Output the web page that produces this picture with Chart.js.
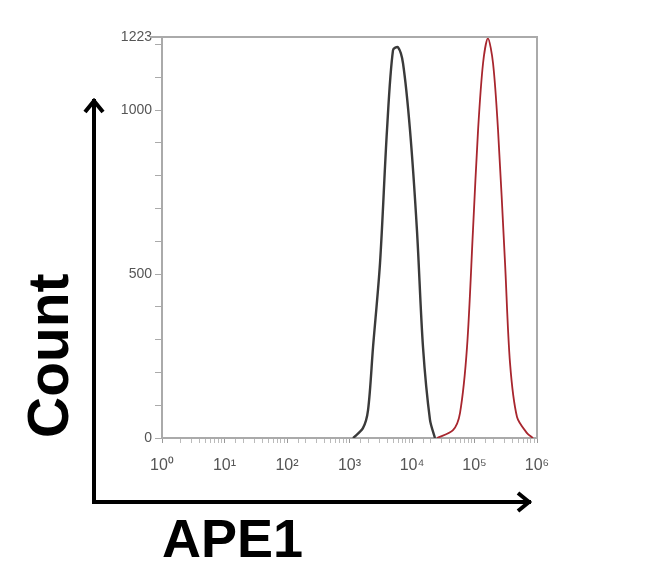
<!DOCTYPE html>
<html>
<head>
<meta charset="utf-8">
<script src="https://cdn.jsdelivr.net/npm/chart.js@4"></script>
<style>
  html,body{margin:0;padding:0;background:#fff;}
  #wrap{width:650px;height:581px;}
</style>
</head>
<body>
<div id="wrap"><canvas id="c" width="650" height="581"></canvas></div>
<script>
// fluorescence intensity (log axis) and event counts
const controlX = [1140, 1640, 1980, 2380, 3080, 3980, 4970, 5970, 7180, 9290, 12000, 15000, 19400, 23300];
const controlY = [0, 30, 85, 277, 534, 939, 1183, 1192, 1143, 939, 634, 277, 55, 0];
const ape1X = [25100, 45300, 58600, 75900, 94600, 114000, 137000, 164000, 198000, 238000, 308000, 370000, 479000, 692000, 863000];
const ape1Y = [0, 24, 76, 277, 634, 939, 1143, 1219, 1143, 939, 534, 229, 64, 15, 0];
const yTicks = [0,100,200,300,400,500,600,700,800,900,1000,1100,1200,1223];
const yLabels = [0, 500, 1000, 1223];
const sup = ['⁰','¹','²','³','⁴','⁵','⁶'];

const pts = (xs, ys)=>xs.map((x,i)=>({x, y: ys[i]}));

const decor = {
  id: 'decor',
  afterDraw(chart){
    const {ctx, chartArea: a} = chart;
    ctx.save();
    // frame top/right
    ctx.strokeStyle = '#aaa'; ctx.lineWidth = 2;
    ctx.beginPath();
    ctx.moveTo(a.left-12, a.top); ctx.lineTo(a.right, a.top); ctx.lineTo(a.right, a.bottom);
    ctx.stroke();
    // big arrows
    const ax = a.left-68, ay = a.bottom+64;
    ctx.strokeStyle = '#000'; ctx.lineWidth = 4; ctx.lineCap = 'square'; ctx.lineJoin = 'miter';
    ctx.beginPath();
    ctx.moveTo(ax, a.top+64); ctx.lineTo(ax, ay); ctx.lineTo(a.right-8, ay);
    ctx.stroke();
    ctx.lineCap = 'butt';
    ctx.beginPath();
    ctx.moveTo(ax-9, a.top+75); ctx.lineTo(ax, a.top+64); ctx.lineTo(ax+9, a.top+75);
    ctx.moveTo(a.right-19, ay-9); ctx.lineTo(a.right-8, ay); ctx.lineTo(a.right-19, ay+9);
    ctx.stroke();
    ctx.restore();
  }
};

new Chart(document.getElementById('c'), {
  type: 'line',
  data: {
    datasets: [
      {label:'Control', data: pts(controlX, controlY), borderColor:'#3a3a3a', borderWidth:2.4, pointRadius:0, tension:0.3, fill:false},
      {label:'APE1', data: pts(ape1X, ape1Y), borderColor:'#a8262e', borderWidth:1.8, pointRadius:0, tension:0.3, fill:false}
    ]
  },
  options: {
    responsive:false, animation:false,
    layout:{padding:{top:37, right:113, left:0, bottom:0}},
    plugins:{legend:{display:false}, tooltip:{enabled:false}},
    scales:{
      x:{
        type:'logarithmic', min:1, max:1e6,
        afterFit(s){ s.height = 143; },
        border:{color:'#aaa', width:2},
        grid:{drawOnChartArea:false, tickLength:5, color:(c)=>{const l=Math.log10(c.tick.value);return Math.abs(l-Math.round(l))<1e-9?'#999':'#bbb';}},
        ticks:{autoSkip:false, maxRotation:0, padding:13, color:'#555', font:{family:'Liberation Sans, Arial', size:16},
          callback:(v)=>{const l=Math.log10(v);return Math.abs(l-Math.round(l))<1e-9?'10'+sup[Math.round(l)]:'';}},
        title:{display:true, text:'APE1', align:'start', color:'#000', padding:{bottom:6, top:0},
          font:{family:'Liberation Sans, Arial', size:54, weight:'bold'}}
      },
      y:{
        min:0, max:1223,
        afterFit(s){ s.width = 162; },
        afterBuildTicks(s){ s.ticks = yTicks.map(v=>({value:v})); },
        border:{color:'#aaa', width:2},
        grid:{drawOnChartArea:false, tickLength:7, color:'#aaa'},
        ticks:{padding:3, color:'#555', font:{family:'Liberation Sans, Arial', size:14},
          callback:(v)=>yLabels.includes(v)?String(v):''},
        title:{display:true, text:'Count', align:'start', color:'#000', padding:{top:18, bottom:0},
          font:{family:'Liberation Sans, Arial', size:57, weight:'bold'}}
      }
    }
  },
  plugins:[decor]
});
</script>
</body>
</html>
